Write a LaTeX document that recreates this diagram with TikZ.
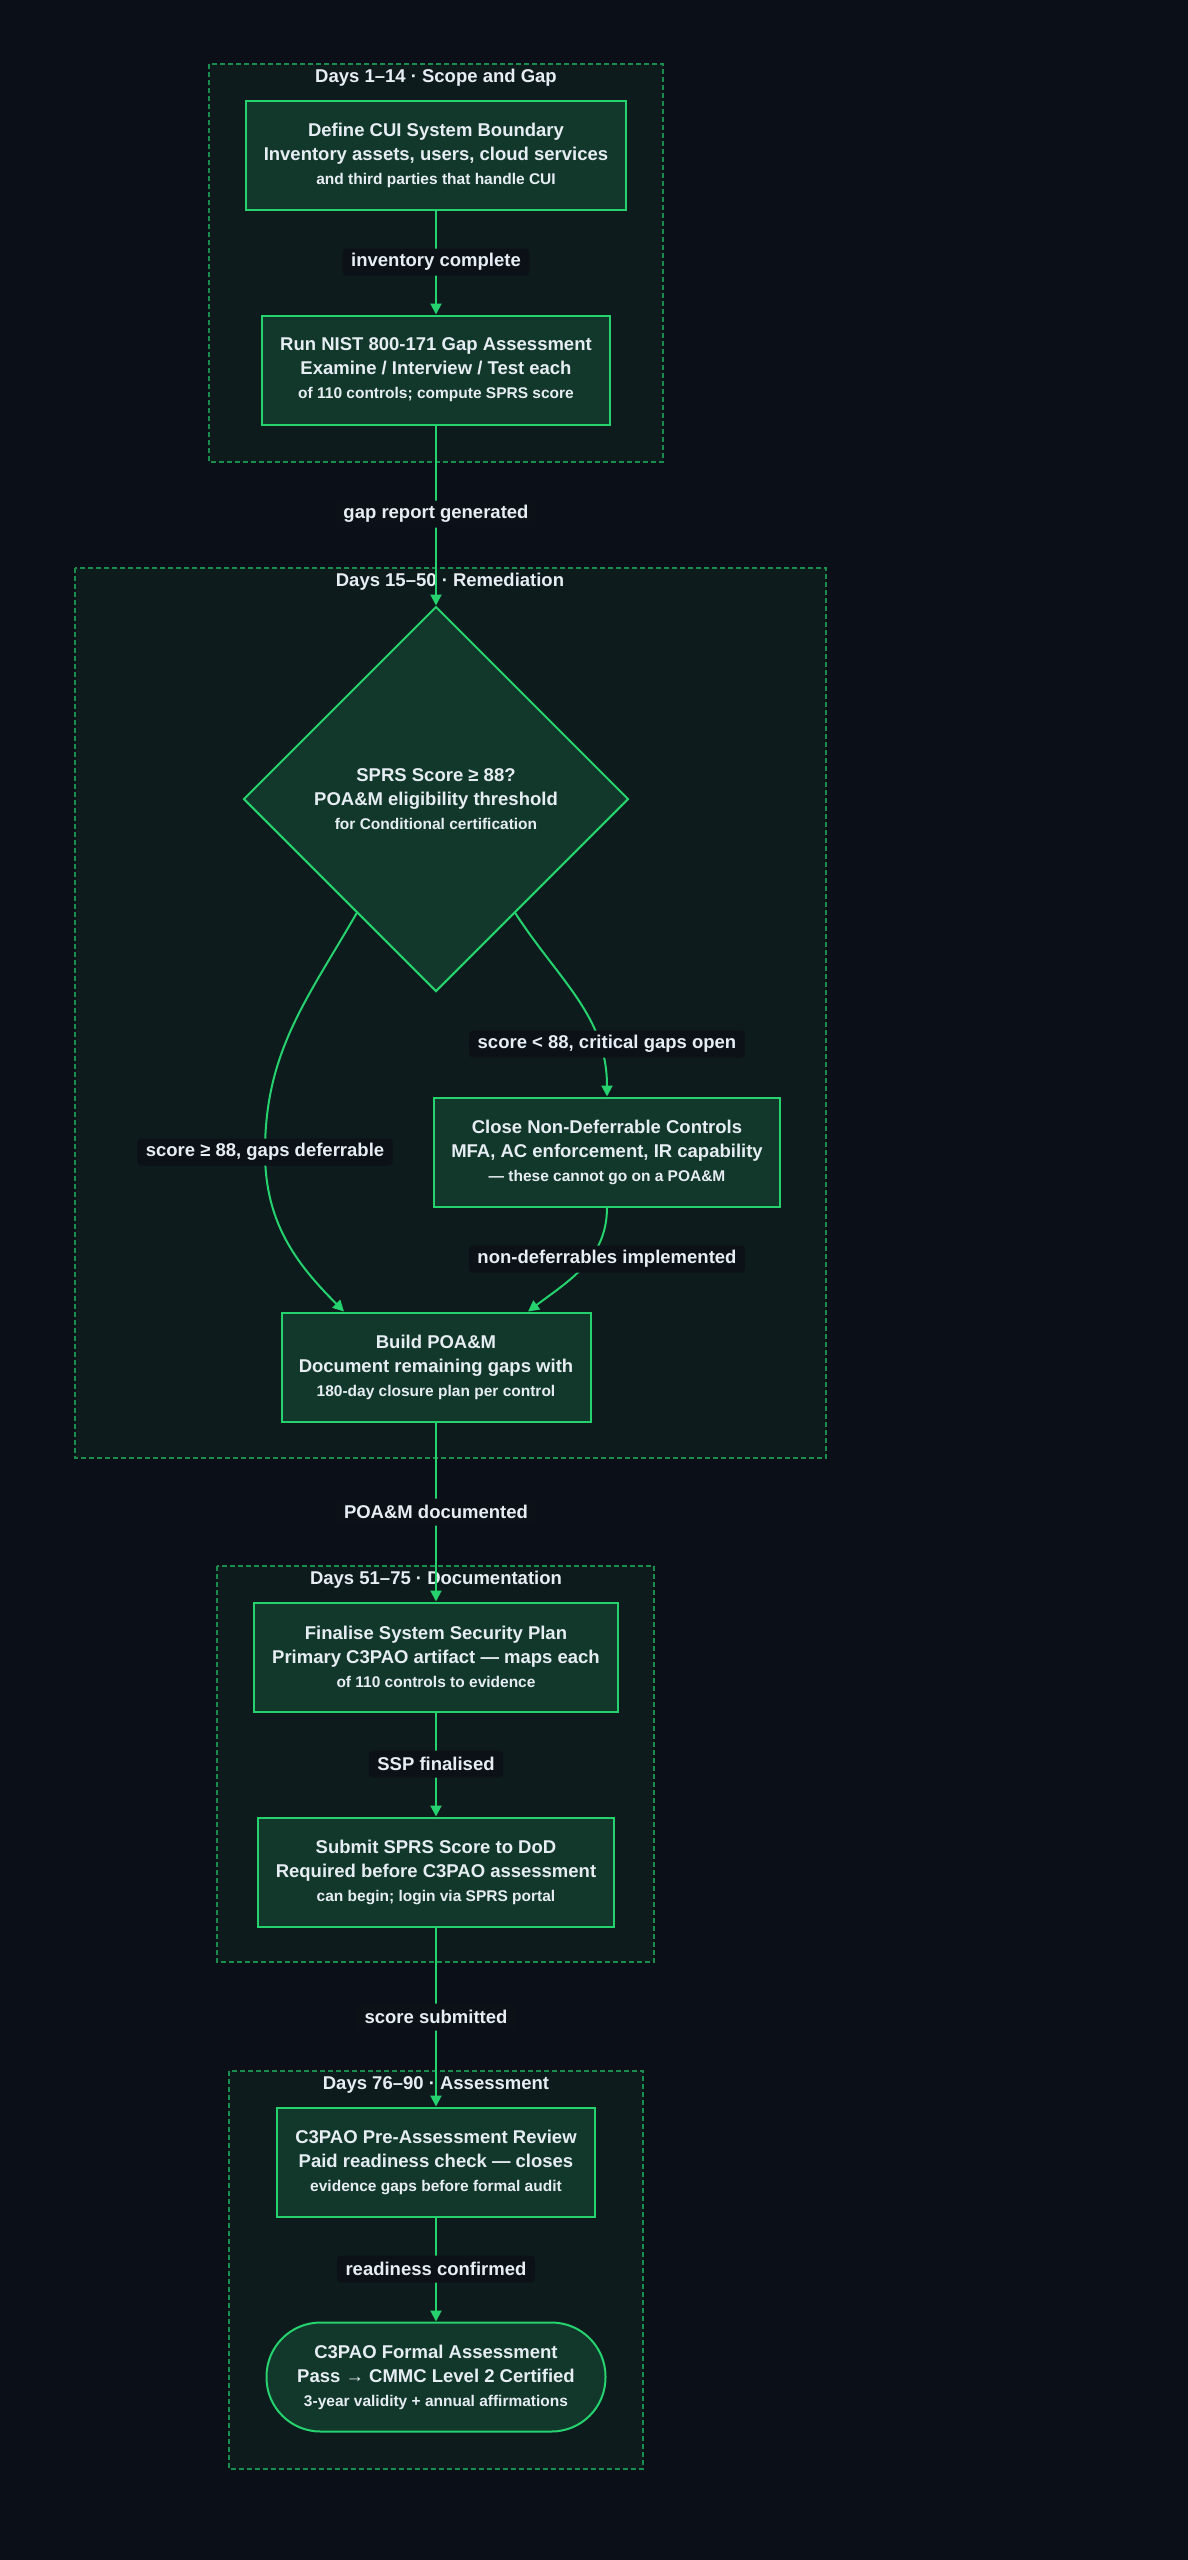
\documentclass[tikz,border=0pt]{standalone}
\usepackage{fontspec}
\setmainfont{Liberation Sans}
\definecolor{cmbg}{RGB}{11,15,23}
\definecolor{cmpanel}{RGB}{14,27,29}
\definecolor{cmfill}{RGB}{18,56,43}
\definecolor{cmgreen}{RGB}{37,210,110}
\definecolor{cmdash}{RGB}{26,140,78}
\definecolor{cmtext}{RGB}{230,237,243}
\definecolor{cmlabel}{RGB}{12,16,23}
\usetikzlibrary{arrows.meta,positioning,shapes.geometric,calc}
\newcommand{\smallline}[1]{{\fontsize{15.5}{24}\selectfont #1}}

\begin{document}
\begin{tikzpicture}[
  x=1pt, y=1pt,
  every node/.style={text=cmtext,font=\fontsize{18.5}{24}\selectfont\bfseries},
  phase/.style={draw=cmdash,fill=cmpanel,dash pattern=on 5pt off 3pt,line width=1.5pt},
  stepbox/.style={draw=cmgreen,fill=cmfill,line width=2pt,align=center,
                  minimum height=109pt,inner sep=0pt},
  decision/.style={diamond,aspect=1,draw=cmgreen,fill=cmfill,line width=2pt,align=center,
                   minimum width=385pt,minimum height=385pt,inner sep=0pt},
  terminal/.style={stepbox,rounded corners=54pt},
  flow/.style={cmgreen,line width=2pt,-{Triangle[length=11pt,width=11pt]}},
  edgelbl/.style={fill=cmlabel,rounded corners=4pt,minimum height=27pt,
                  inner xsep=8.5pt,inner ysep=0pt},
]
  % Page
  \fill[cmbg] (0,0) rectangle (1188,-2560);

  % Phase panels
  \draw[phase] (209,-64) rectangle (663,-462);
  \node[anchor=base] (p1) at (436,-82) {Days 1–14 · Scope and Gap};
  \draw[phase] (75,-568) rectangle (826,-1458);
  \node[anchor=base] (p2) at (450,-586) {Days 15–50 · Remediation};
  \draw[phase] (217,-1566) rectangle (654,-1962);
  \node[anchor=base] (p3) at (436,-1584) {Days 51–75 · Documentation};
  \draw[phase] (229,-2071) rectangle (643,-2469);
  \node[anchor=base] (p4) at (436,-2089) {Days 76–90 · Assessment};

  % Days 1-14
  \node[stepbox,minimum width=380pt] (boundary) at (436,-155) {%
    Define CUI System Boundary\\Inventory assets, users, cloud services\\
    \smallline{and third parties that handle CUI}};
  \node[stepbox,minimum width=348pt] (gapassess) at (436,-370) {%
    Run NIST 800-171 Gap Assessment\\Examine / Interview / Test each\\
    \smallline{of 110 controls; compute SPRS score}};

  % Days 15-50
  \node[decision] (sprs) at (436,-799) {%
    SPRS Score ≥ 88?\\POA\&M eligibility threshold\\
    \smallline{for Conditional certification}};
  \node[stepbox,minimum width=346pt] (nondefer) at (607,-1152) {%
    Close Non-Deferrable Controls\\MFA, AC enforcement, IR capability\\
    \smallline{— these cannot go on a POA\&M}};
  \node[stepbox,minimum width=309pt] (poam) at (436,-1367) {%
    Build POA\&M\\Document remaining gaps with\\
    \smallline{180-day closure plan per control}};

  % Days 51-75
  \node[stepbox,minimum width=364pt] (ssp) at (436,-1657) {%
    Finalise System Security Plan\\Primary C3PAO artifact — maps each\\
    \smallline{of 110 controls to evidence}};
  \node[stepbox,minimum width=356pt] (submit) at (436,-1872) {%
    Submit SPRS Score to DoD\\Required before C3PAO assessment\\
    \smallline{can begin; login via SPRS portal}};

  % Days 76-90
  \node[stepbox,minimum width=318pt] (prereview) at (436,-2162) {%
    C3PAO Pre-Assessment Review\\Paid readiness check — closes\\
    \smallline{evidence gaps before formal audit}};
  \node[terminal,minimum width=339pt] (formal) at (436,-2377) {%
    C3PAO Formal Assessment\\Pass → CMMC Level 2 Certified\\
    \smallline{3-year validity + annual affirmations}};

  % Connectors
  \coordinate (dleft) at ($(sprs.west)!0.59!(sprs.south)$);
  \coordinate (dright) at ($(sprs.east)!0.59!(sprs.south)$);
  \coordinate (viaL) at (265,-1152);
  \draw[flow] (boundary.south) -- (gapassess.north);
  \draw[flow] (gapassess.south) -- (sprs.north);
  \draw[flow] (dleft) to[out=-120,in=90] (viaL) to[out=-90,in=135] ([xshift=-92pt]poam.north);
  \draw[flow] (dright) to[out=-57,in=90] (nondefer.north);
  \draw[flow] (nondefer.south) to[out=-90,in=37] ([xshift=92pt]poam.north);
  \draw[flow] (poam.south) -- (ssp.north);
  \draw[flow] (ssp.south) -- (submit.north);
  \draw[flow] (submit.south) -- (prereview.north);
  \draw[flow] (prereview.south) -- (formal.north);

  % Edge labels
  \node[edgelbl] (l1) at (436,-262) {inventory complete};
  \node[edgelbl] (l2) at (436,-514) {gap report generated};
  \node[edgelbl] (l3) at (viaL) {score ≥ 88, gaps deferrable};
  \node[edgelbl] (l4) at (607,-1044) {score < 88, critical gaps open};
  \node[edgelbl] (l5) at (607,-1259) {non-deferrables implemented};
  \node[edgelbl] (l6) at (436,-1512) {POA\&M documented};
  \node[edgelbl] (l7) at (436,-1764) {SSP finalised};
  \node[edgelbl] (l8) at (436,-2017) {score submitted};
  \node[edgelbl] (l9) at (436,-2269) {readiness confirmed};
\end{tikzpicture}
\end{document}
